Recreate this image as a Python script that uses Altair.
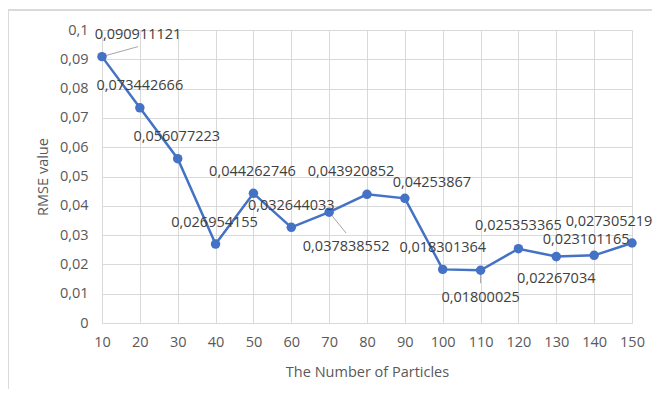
import altair as alt
import pandas as pd

particles = [10, 20, 30, 40, 50, 60, 70, 80, 90, 100, 110, 120, 130, 140, 150]
rmse = [0.090911121, 0.073442666, 0.056077223, 0.026954155, 0.044262746,
        0.032644033, 0.037838552, 0.043920852, 0.04253867, 0.018301364,
        0.01800025, 0.025353365, 0.02267034, 0.023101165, 0.027305219]
y_ticks = [0, 0.01, 0.02, 0.03, 0.04, 0.05, 0.06, 0.07, 0.08, 0.09, 0.1]

# label placement (pixel offsets from each point), kept apart from the data
label_dx = [36, 0, -1, -1, -1, 0, 17, -16, 27, 0, 0, 0, 0, -8, -23]
label_dy = [-22, -22, -22, -21, -21, -21, 35, -22, -15, -21, 28, -23, 22, -15, -21]
# leader lines: (point index, end dx, end dy)
leaders = [(0, 36, -10), (6, 17, 21), (10, 0, 13), (12, 0, 6)]

df = pd.DataFrame({"n": particles, "v": rmse})
df["lab"] = [str(v).replace(".", ",") for v in rmse]

FONT = "Open Sans"
BLUE = "#4472C4"
GRID = "#d9d9d9"
AXC = "#595959"

x = alt.X("n:Q", scale=alt.Scale(domain=[10, 150], nice=False, zero=False),
          axis=alt.Axis(values=particles, title="The Number of Particles",
                        grid=True, gridColor=GRID, ticks=False, domain=True,
                        domainColor=GRID, labelColor=AXC, labelFontSize=14.5,
                        labelFont=FONT, labelPadding=12, labelFlush=False,
                        labelOverlap=False, labelBound=False, titleColor=AXC,
                        titleFont=FONT, titleFontSize=14.5, titleFontWeight="normal",
                        titleX=265, titleY=49, titleBaseline="middle"))
y = alt.Y("v:Q", scale=alt.Scale(domain=[0, 0.1], nice=False),
          axis=alt.Axis(values=y_ticks, title="RMSE value",
                        labelExpr="replace(toString(datum.value), '.', ',')",
                        grid=True, gridColor=GRID, ticks=False, domain=False,
                        labelColor=AXC, labelFontSize=14.5, labelFont=FONT,
                        labelPadding=14, labelFlush=False, labelOverlap=False,
                        titleColor=AXC, titleFont=FONT,
                        titleFontSize=14.5, titleFontWeight="normal",
                        titleX=-59, titleY=146.5, titleBaseline="middle"))

base = alt.Chart(df)

border = base.mark_rect(fill=None, stroke=GRID, strokeWidth=1, clip=False).encode(
    x=alt.value(-94), x2=alt.value(700), y=alt.value(-20), y2=alt.value(500))

line = base.mark_line(color=BLUE, strokeWidth=2.5).encode(x=x, y=y)
pts = base.mark_circle(color=BLUE, size=90, opacity=1).encode(x=x, y=y)

layers = [border, line]
for idx, ddx, ddy in leaders:
    sub = alt.Chart(df.iloc[[idx]])
    layers.append(sub.mark_rule(color="#a6a6a6", strokeWidth=1, x2Offset=ddx, y2Offset=ddy)
                  .encode(x=x, y=y, x2="n:Q", y2="v:Q"))
layers.append(pts)
for i in range(len(particles)):
    sub = alt.Chart(df.iloc[[i]])
    layers.append(sub.mark_text(font=FONT, fontSize=14.5, color="#404040",
                                dx=label_dx[i], dy=label_dy[i], baseline="middle")
                  .encode(x=x, y=y, text="lab:N"))

chart = alt.layer(*layers).properties(
    width=530, height=293,
    autosize=alt.AutoSizeParams(type="none"),
    padding={"left": 94, "top": 22, "right": 20, "bottom": 66},
).configure_view(stroke=None)

chart.save("out.html", embed_options={"renderer": "svg", "actions": False})
